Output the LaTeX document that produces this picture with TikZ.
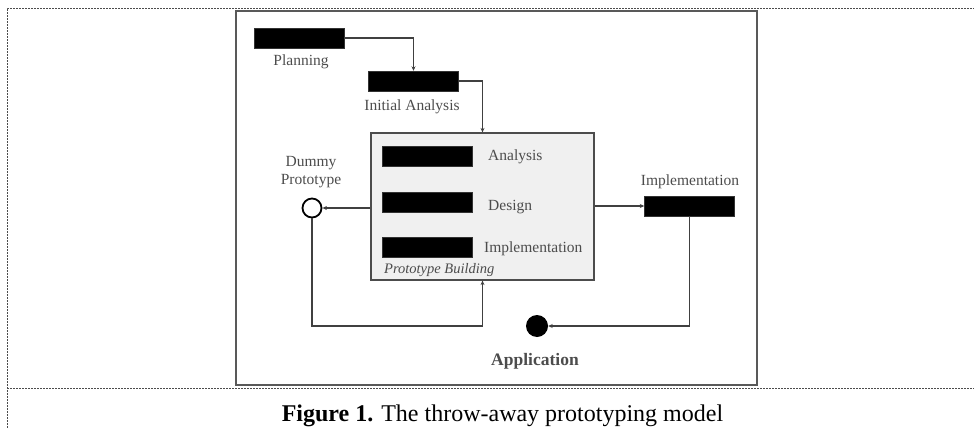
\documentclass[tikz,border=0pt]{standalone}
\usepackage{fontspec}
\setmainfont{Liberation Serif}
\usetikzlibrary{arrows.meta}
\begin{document}
\begin{tikzpicture}[x=1pt,y=-1pt,
	blk/.style={fill=black,draw=black!80,minimum width=90pt,minimum height=20pt,inner sep=0pt},
	lbl/.style={text=black!70,inner sep=0pt,font=\fontsize{15.5}{17.5}\selectfont},
	conn/.style={draw=black!75,line width=1.3pt,-{Stealth[length=4.5pt,width=4pt]}}]
		\useasboundingbox (0,0) rectangle (974,428);
		\draw[black!70,dash pattern=on 2pt off 1pt] (7,428) -- (7,8) -- (974,8);
		\draw[black!70,dash pattern=on 2pt off 1pt] (7,388) -- (974,388);
		\draw[black!65,line width=1.4pt] (236,11) rectangle (757,385);
		\node[blk] (plan) at (299,38) {};
		\node[lbl] (planlbl) at (301,62) {Planning};
		\node[blk] (init) at (413.5,81) {};
		\node[lbl] (initlbl) at (412,107) {Initial Analysis};
		\node[draw=black!70,fill=black!6,line width=1.2pt,minimum width=223pt,minimum height=147pt,inner sep=0pt] (proto) at (482.5,206.5) {};
		\foreach \y/\ly/\lx/\t/\n in {156.5/157/488/Analysis/ana,202/207/488/Design/des,247/249/484/Implementation/imp}
		{
			\node[blk] (\n box) at (427.5,\y) {};
			\node[lbl,anchor=west] (\n lbl) at (\lx,\ly) {\t};
		}
		\node[lbl,anchor=west,font=\itshape\fontsize{14.5}{16}\selectfont] (protolbl) at (384,270) {Prototype Building};
		\node[circle,draw=black,fill=white,line width=1.8pt,minimum size=19pt,inner sep=0pt] (dummy) at (312,208) {};
		\node[lbl,align=center] (dummylbl) at (311,172) {Dummy\\Prototype};
		\node[blk] (impl) at (689.5,206) {};
		\node[lbl] (impllbl) at (690,182) {Implementation};
		\node[circle,fill=black,minimum size=22pt,inner sep=0pt] (app) at (537,326) {};
		\node[lbl,font=\bfseries\fontsize{17.5}{19}\selectfont] (applbl) at (535,361) {Application};
		\coordinate (back) at (482.5,326);
		\draw[conn] (plan.east) -| (init.north);
		\draw[conn] (init.east) -| (proto.north);
		\draw[conn] (proto.west |- dummy.east) -- (dummy.east);
		\draw[conn] (dummy.south) |- (back) -- (proto.south);
		\draw[conn] (proto.east |- impl.west) -- (impl.west);
		\draw[conn] (impl.south) |- (app.east);
		\node[anchor=base,inner sep=0pt,font=\fontsize{24}{26}\selectfont] (cap) at (502.5,421.5) {\textbf{Figure 1.} The throw-away prototyping model};
\end{tikzpicture}
\end{document}
